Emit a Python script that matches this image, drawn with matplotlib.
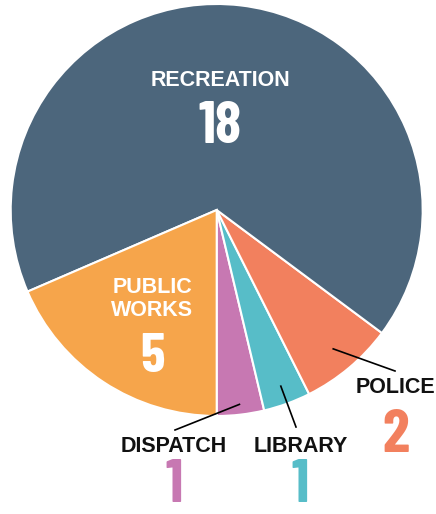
import numpy as np
import matplotlib.pyplot as plt
from matplotlib import font_manager

# slices in drawing order (counter-clockwise from straight down)
labels = ["DISPATCH", "LIBRARY", "POLICE", "RECREATION", "PUBLIC\nWORKS"]
values = [1, 1, 2, 18, 5]
colors = ["#c778b2", "#57bdc8", "#f2805e", "#4c667c", "#f6a54b"]

W, H = 436, 514
fig = plt.figure(figsize=(W / 100, H / 100), dpi=100)
ax = fig.add_axes([0, 0, 1, 1])

names = {f.name for f in font_manager.fontManager.ttflist}
num_font = "Barlow Condensed" if "Barlow Condensed" in names else "DejaVu Sans"
lab_font = "Liberation Sans"

cx, cy, R = 216.7, H - 210, 206
wedges, _ = ax.pie(values, colors=colors, startangle=270, counterclock=True,
                   center=(cx, cy), radius=R, frame=True,
                   wedgeprops=dict(edgecolor="white", linewidth=1.5))
ax.set_xlim(0, W)
ax.set_ylim(0, H)
ax.set_aspect("equal")
ax.axis("off")

# inside labels: x, label baseline, number baseline, number size
inside = {3: (220, 86, 143, 43), 4: (152, 316.5, 372, 40)}
for i, (x, ly, ny, fs) in inside.items():
    ax.text(x, H - ly, labels[i], ha="center", va="baseline", color="white",
            fontsize=15.5, fontweight="bold", family=lab_font, linespacing=1.15)
    ax.text(x, H - ny, str(values[i]), ha="center", va="baseline", color="white",
            fontsize=fs, fontweight="bold", family=num_font)

# outside labels with leader lines
outside = {0: ((174, 451.5), (174, 502), 0.95, (175, 430)),
           1: ((301, 451.5), (300, 502), 0.91, (296, 427)),
           2: ((395, 393), (396, 452), 0.88, (395, 371))}
for i, (lab_xy, num_xy, rf, end) in outside.items():
    w = wedges[i]
    mid = np.deg2rad((w.theta1 + w.theta2) / 2)
    sx, sy = cx + rf * R * np.cos(mid), cy + rf * R * np.sin(mid)
    ax.plot([sx, end[0]], [sy, H - end[1]], color="black", lw=1.2)
    ax.text(lab_xy[0], H - lab_xy[1], labels[i], ha="center", va="baseline",
            color="#111111", fontsize=15.5, fontweight="bold", family=lab_font)
    ax.text(num_xy[0], H - num_xy[1], str(values[i]), ha="center", va="baseline",
            color=colors[i], fontsize=44, fontweight="bold", family=num_font)

fig.savefig("out.png", dpi=100)
